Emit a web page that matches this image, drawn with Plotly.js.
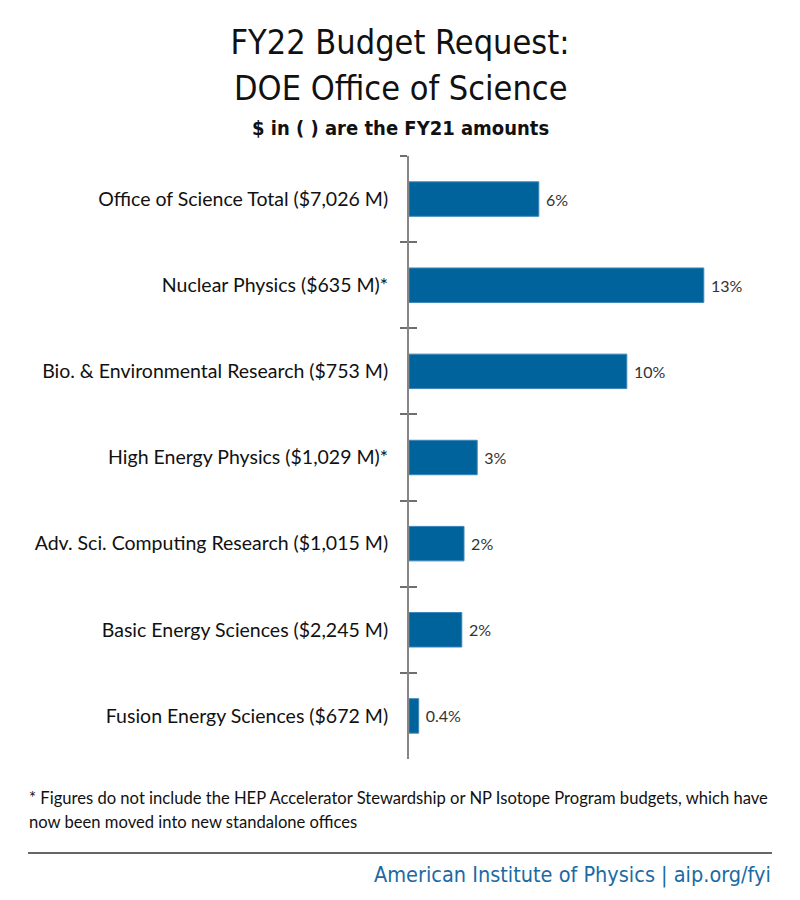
<!DOCTYPE html>
<html>
<head>
<meta charset="utf-8">
<script src="https://cdn.plot.ly/plotly-3.0.1.min.js"></script>
<style>html,body{margin:0;padding:0;background:#fff;}#chart{width:800px;height:900px;}</style>
</head>
<body>
<div id="chart"></div>
<script>
// Data
const categories = [
  "Office of Science Total ($7,026 M)",
  "Nuclear Physics ($635 M)*",
  "Bio. & Environmental Research ($753 M)",
  "High Energy Physics ($1,029 M)*",
  "Adv. Sci. Computing Research ($1,015 M)",
  "Basic Energy Sciences ($2,245 M)",
  "Fusion Energy Sciences ($672 M)"
];
const changePct = [5.9, 13.4, 9.9, 3.1, 2.5, 2.4, 0.44];
const changeLabels = ["6%", "13%", "10%", "3%", "2%", "2%", "0.4%"];

// Layout geometry (pixels)
const W = 800, H = 900;
const mL = 409, mR = 50, mT = 156, mB = 141;
const plotW = W - mL - mR, plotH = H - mT - mB;
const px = x => (x - mL) / plotW;
const py = y => (H - mB - y) / plotH;

const condensed = "'Liberation Sans Narrow', 'DejaVu Sans Condensed', sans-serif";
const body = "Lato, 'Open Sans', sans-serif";

const barTrace = {
  type: 'bar',
  orientation: 'h',
  x: changePct,
  y: categories,
  text: changeLabels,
  texttemplate: ' %{text}',
  textposition: 'outside',
  cliponaxis: false,
  textfont: {family: body, size: 16, color: '#333333'},
  marker: {color: '#00639B', line: {color: '#3c86b8', width: 1}},
  hoverinfo: 'skip',
  showlegend: false
};
const tickTrace = {
  type: 'bar',
  orientation: 'h',
  x: changePct,
  y: categories,
  yaxis: 'y2',
  marker: {color: 'rgba(0,0,0,0)'},
  hoverinfo: 'skip',
  showlegend: false
};

const layout = {
  width: W, height: H,
  margin: {l: mL, r: mR, t: mT, b: mB, pad: 0},
  paper_bgcolor: '#ffffff',
  plot_bgcolor: '#ffffff',
  bargap: 0.6,
  title: {
    text: 'FY22 Budget Request:',
    font: {family: condensed, size: 34, color: '#111111'},
    x: 0.5, xref: 'container', xanchor: 'center',
    yref: 'container', y: 1 - 30 / H, yanchor: 'top'
  },
  xaxis: {
    range: [0, plotW / 22],
    visible: false,
    fixedrange: true
  },
  yaxis: {
    type: 'category',
    autorange: 'reversed',
    showline: true, linecolor: '#868686', linewidth: 2,
    ticks: 'outside', ticklen: 7, tickwidth: 2, tickcolor: '#6f6f6f',
    tickson: 'boundaries',
    ticklabelstandoff: 15,
    showgrid: false, zeroline: false,
    tickfont: {family: body, size: 19.5, color: '#111111'},
    fixedrange: true
  },
  yaxis2: {
    type: 'category',
    overlaying: 'y',
    side: 'left',
    autorange: 'reversed',
    showline: false,
    ticks: 'inside', ticklen: 8, tickwidth: 2, tickcolor: '#6f6f6f',
    tickson: 'boundaries',
    showticklabels: false,
    showgrid: false, zeroline: false,
    fixedrange: true
  },
  annotations: [
    {text: 'DOE Office of Science', xref: 'paper', yref: 'paper',
     x: px(400), y: py(88), xanchor: 'center', yanchor: 'middle', showarrow: false,
     font: {family: condensed, size: 34, color: '#111111'}},
    {text: '<b>$ in ( ) are the FY21 amounts</b>', xref: 'paper', yref: 'paper',
     x: px(400), y: py(128), xanchor: 'center', yanchor: 'middle', showarrow: false,
     font: {family: condensed, size: 20, color: '#111111'}},
    {text: '* Figures do not include the HEP Accelerator Stewardship or NP Isotope Program budgets, which have',
     xref: 'paper', yref: 'paper', x: px(27), y: py(798), xanchor: 'left', yanchor: 'middle', showarrow: false,
     font: {family: body, size: 16.6, color: '#111111'}},
    {text: 'now been moved into new standalone offices',
     xref: 'paper', yref: 'paper', x: px(27), y: py(822), xanchor: 'left', yanchor: 'middle', showarrow: false,
     font: {family: body, size: 16.6, color: '#111111'}},
    {text: 'American Institute of Physics | aip.org/fyi',
     xref: 'paper', yref: 'paper', x: px(773), y: py(875), xanchor: 'right', yanchor: 'middle', showarrow: false,
     font: {family: condensed, size: 21.5, color: '#1c6aa3'}}
  ],
  shapes: [
    {type: 'line', xref: 'paper', yref: 'paper', x0: px(28), x1: px(772), y0: py(853), y1: py(853),
     line: {color: '#333333', width: 1.5}}
  ]
};

Plotly.newPlot('chart', [barTrace, tickTrace], layout, {displayModeBar: false, staticPlot: true});
</script>
</body>
</html>
